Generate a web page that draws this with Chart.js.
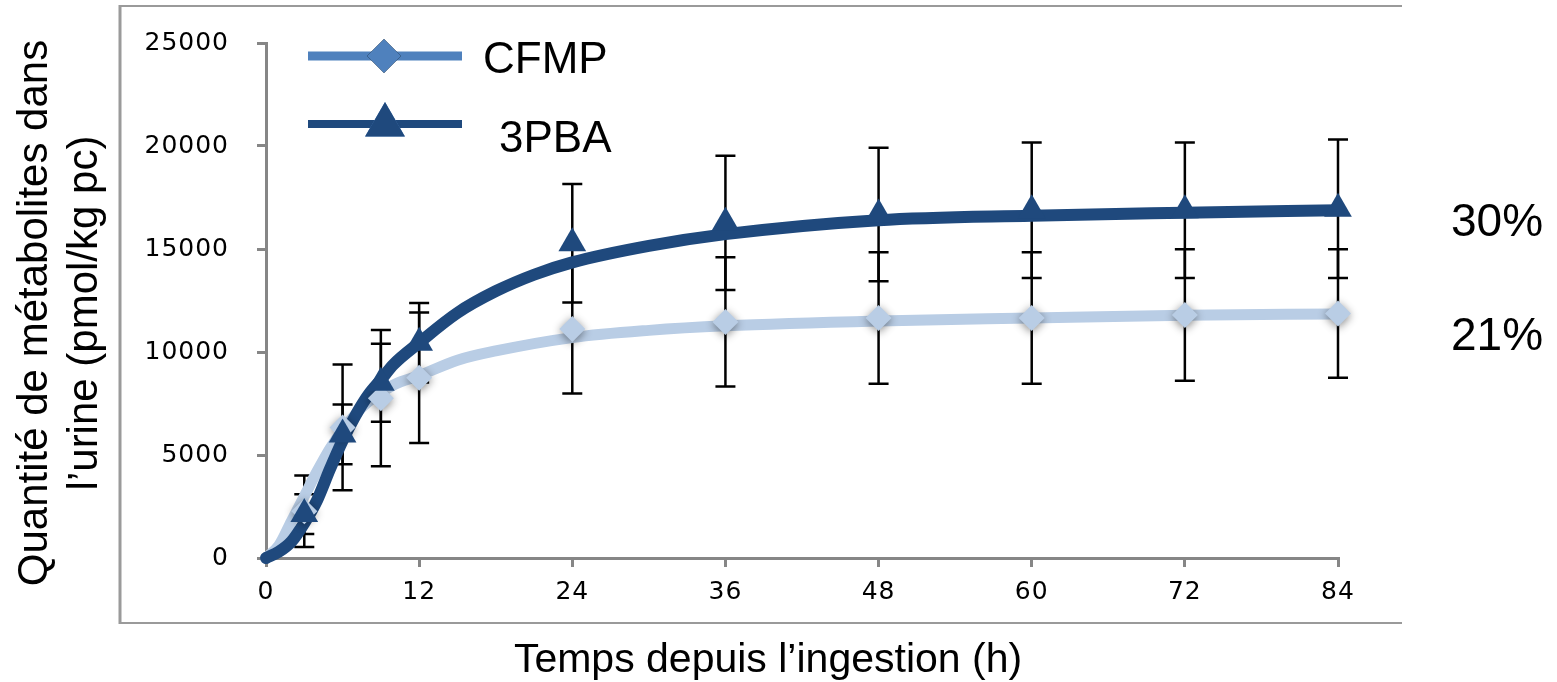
<!DOCTYPE html>
<html>
<head>
<meta charset="utf-8">
<script src="https://cdn.jsdelivr.net/npm/chart.js@4.4.0/dist/chart.umd.min.js"></script>
<style>
    html, body { margin: 0; padding: 0; background: #fff; }
</style>
</head>
<body>
<canvas id="myChart" width="1557" height="682"></canvas>
<script>
// sampling times (h) and measured means / standard deviations
const sampleHours = [3, 6, 9, 12, 24, 36, 48, 60, 72, 84];
const cfmpMean = [2270, 6340, 7760, 8750, 11120, 11460, 11650, 11650, 11800, 11870];
const cfmpSd = [1740, 3050, 3310, 3170, 3140, 3140, 3190, 3190, 3190, 3120];
const pbaMean = [2130, 6000, 8510, 10450, 15280, 16270, 16680, 16880, 16880, 16950];
const pbaSd = [970, 1450, 1890, 1930, 2880, 3260, 3240, 3290, 3290, 3360];

// smooth fitted curves
const cfmpCurveHours = [0, 1, 2, 3, 4, 5, 6, 7.5, 10, 12, 15, 18, 24, 30, 36, 48, 60, 72, 84];
const cfmpCurve = [0, 600, 1800, 3000, 4200, 5300, 6200, 7300, 8400, 8850, 9600, 10050, 10700, 11050, 11270, 11510, 11650, 11780, 11850];
const pbaCurveHours = [0, 1, 2, 3, 4, 5, 6, 7, 8, 9, 10, 12, 15, 18, 21, 24, 30, 36, 48, 60, 72, 84];
const pbaCurve = [0, 300, 800, 1700, 2800, 4300, 5700, 6900, 7900, 8650, 9400, 10450, 11900, 12950, 13750, 14350, 15150, 15720, 16400, 16620, 16760, 16880];

const seriesNames = ['CFMP', '3PBA'];
const finalShares = ['21%', '30%'];
const xTicks = [0, 12, 24, 36, 48, 60, 72, 84];
const yTicks = [0, 5000, 10000, 15000, 20000, 25000];
const yTitle = ['Quantité de métabolites dans', 'l\u2019urine (pmol/kg pc)'];
const xTitle = 'Temps depuis l\u2019ingestion (h)';

const darkBlue = '#1F497D';
const lightBlue = '#B9CDE5';
const legendBlue = '#4F81BD';
const axisGray = '#868686';

function toPoints(xs, ys) {
    return xs.map(function (x, i) { return { x: x, y: ys[i] }; });
}

const extras = {
    id: 'extras',
    beforeDraw(chart) {
        const ctx = chart.ctx;
        ctx.save();
        ctx.strokeStyle = '#9a9a9a';
        ctx.lineWidth = 3;
        ctx.beginPath();
        ctx.moveTo(120, 5);
        ctx.lineTo(120, 624);
        ctx.stroke();
        ctx.lineWidth = 2;
        ctx.beginPath();
        ctx.moveTo(119, 6);
        ctx.lineTo(1402, 6);
        ctx.moveTo(119, 623);
        ctx.lineTo(1402, 623);
        ctx.stroke();
        ctx.restore();
        // slightly wider tick digits
        ctx.letterSpacing = '1px';
    },
    beforeDatasetsDraw(chart) {
        const ctx = chart.ctx;
        ctx.letterSpacing = '0px';
        const xs = chart.scales.x, ys = chart.scales.y;
        ctx.save();
        ctx.strokeStyle = '#000';
        ctx.lineWidth = 2.5;
        [[cfmpMean, cfmpSd], [pbaMean, pbaSd]].forEach(function (s) {
            sampleHours.forEach(function (h, i) {
                const x = xs.getPixelForValue(h);
                const top = ys.getPixelForValue(s[0][i] + s[1][i]);
                const bot = ys.getPixelForValue(s[0][i] - s[1][i]);
                ctx.beginPath();
                ctx.moveTo(x, top); ctx.lineTo(x, bot);
                ctx.moveTo(x - 10, top); ctx.lineTo(x + 10, top);
                ctx.moveTo(x - 10, bot); ctx.lineTo(x + 10, bot);
                ctx.stroke();
            });
        });
        ctx.restore();
    },
    beforeDatasetDraw(chart, args) {
        if (chart.data.datasets[args.index].glow) {
            const ctx = chart.ctx;
            ctx.save();
            ctx.shadowColor = 'rgba(0,0,0,0.45)';
            ctx.shadowBlur = 9;
            ctx.shadowOffsetY = 2;
        }
    },
    afterDatasetDraw(chart, args) {
        if (chart.data.datasets[args.index].glow) {
            chart.ctx.restore();
        }
    },
    afterDraw(chart) {
        const ctx = chart.ctx;
        ctx.save();
        ctx.letterSpacing = '0px';
        ctx.fillStyle = '#000';

        // axis titles
        ctx.font = '42px "Liberation Sans", Arial, sans-serif';
        ctx.textAlign = 'center';
        ctx.textBaseline = 'alphabetic';
        ctx.save();
        ctx.translate(47, 313);
        ctx.rotate(-Math.PI / 2);
        ctx.fillText(yTitle[0], 0, 0);
        ctx.fillText(yTitle[1], 0, 50);
        ctx.restore();
        ctx.font = '41px "Liberation Sans", Arial, sans-serif';
        ctx.fillText(xTitle, 768, 672);

        // percentages at the end of the curves
        ctx.font = '46px "Liberation Sans", Arial, sans-serif';
        ctx.textAlign = 'left';
        ctx.fillText(finalShares[1], 1451, 236);
        ctx.fillText(finalShares[0], 1451, 350);

        // legend
        ctx.lineWidth = 9;
        ctx.strokeStyle = legendBlue;
        ctx.beginPath(); ctx.moveTo(308, 56); ctx.lineTo(462, 56); ctx.stroke();
        Chart.helpers.drawPoint(ctx, { pointStyle: 'rectRot', radius: 17, borderWidth: 0 }, 384, 56);
        ctx.fillStyle = legendBlue;
        ctx.fill();
        ctx.lineWidth = 8;
        ctx.strokeStyle = darkBlue;
        ctx.beginPath(); ctx.moveTo(308, 124); ctx.lineTo(462, 124); ctx.stroke();
        Chart.helpers.drawPoint(ctx, { pointStyle: 'triangle', radius: 23, borderWidth: 0 }, 385, 125);
        ctx.fillStyle = darkBlue;
        ctx.fill();

        ctx.fillStyle = '#000';
        ctx.font = '44px "Liberation Sans", Arial, sans-serif';
        ctx.fillText(seriesNames[0], 483, 73);
        ctx.fillText(seriesNames[1], 499, 152);
        ctx.restore();
    }
};

const tickFont = { family: 'DejaVu Sans', size: 25 };

const ctx = document.getElementById('myChart').getContext('2d');
new Chart(ctx, {
    type: 'line',
    data: {
        datasets: [
            {
                label: seriesNames[1] + ' points',
                data: toPoints(sampleHours, pbaMean),
                showLine: false,
                pointStyle: 'triangle',
                pointRadius: 16,
                pointBackgroundColor: darkBlue,
                pointBorderWidth: 0,
                clip: false,
                order: 0
            },
            {
                label: seriesNames[0] + ' points',
                data: toPoints(sampleHours, cfmpMean),
                showLine: false,
                pointStyle: 'rectRot',
                pointRadius: 13,
                pointBackgroundColor: lightBlue,
                pointBorderWidth: 0,
                glow: true,
                clip: false,
                order: 1
            },
            {
                label: seriesNames[1],
                data: toPoints(pbaCurveHours, pbaCurve),
                borderColor: darkBlue,
                borderWidth: 12,
                borderCapStyle: 'round',
                cubicInterpolationMode: 'monotone',
                pointRadius: 0,
                clip: false,
                order: 2
            },
            {
                label: seriesNames[0],
                data: toPoints(cfmpCurveHours, cfmpCurve),
                borderColor: lightBlue,
                borderWidth: 11,
                borderCapStyle: 'round',
                cubicInterpolationMode: 'monotone',
                pointRadius: 0,
                clip: false,
                order: 3
            }
        ]
    },
    options: {
        responsive: false,
        animation: false,
        devicePixelRatio: 1,
        layout: { padding: { top: 41, right: 219, left: 0, bottom: 0 } },
        plugins: { legend: { display: false }, tooltip: { enabled: false } },
        scales: {
            x: {
                type: 'linear',
                min: 0,
                max: 84,
                afterFit: function (s) { s.height = 124; },
                afterBuildTicks: function (s) { s.ticks = xTicks.map(function (v) { return { value: v }; }); },
                ticks: { color: '#000', padding: 10, maxRotation: 0, font: tickFont, callback: function (v) { return String(v); } },
                grid: { drawOnChartArea: false, tickLength: 9, color: axisGray, lineWidth: 3 },
                border: { color: axisGray, width: 3 }
            },
            y: {
                min: 0,
                max: 25000,
                afterFit: function (s) { s.width = 266; },
                afterBuildTicks: function (s) { s.ticks = yTicks.map(function (v) { return { value: v }; }); },
                ticks: { color: '#000', padding: 28, font: tickFont, callback: function (v) { return String(v); } },
                grid: { drawOnChartArea: false, tickLength: 9, color: axisGray, lineWidth: 3 },
                border: { color: axisGray, width: 3 }
            }
        }
    },
    plugins: [extras]
});
</script>
</body>
</html>
